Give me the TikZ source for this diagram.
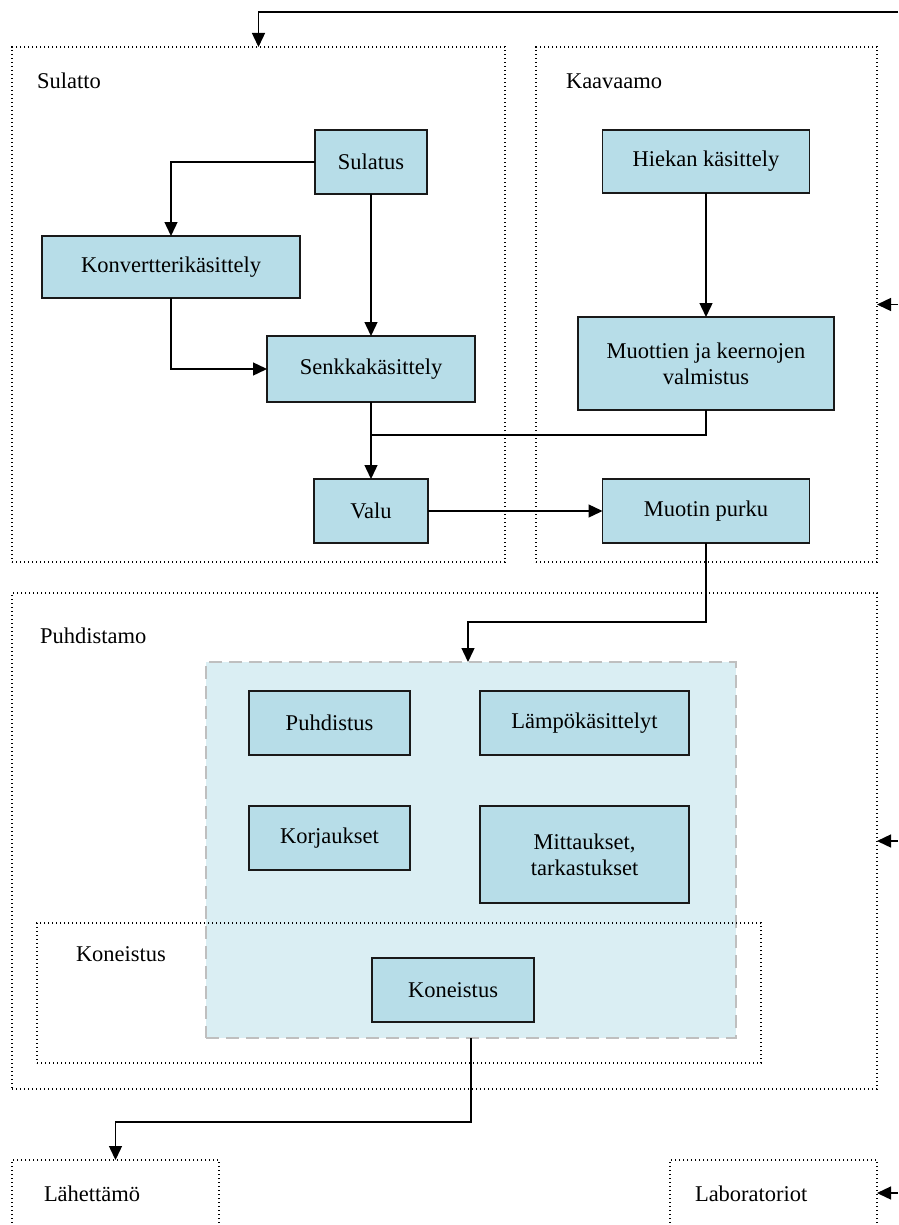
\documentclass[tikz,border=0pt]{standalone}
\usepackage{fontspec}
\setmainfont{Liberation Serif}
\usetikzlibrary{arrows.meta}
\definecolor{procfill}{HTML}{B7DDE8}
\definecolor{areafill}{HTML}{DAEEF3}
\definecolor{areaedge}{HTML}{BFBFBF}
\begin{document}
\begin{tikzpicture}[x=1pt,y=-1pt,
  every node/.style={font=\fontsize{22.5}{26}\selectfont, inner sep=0pt, outer sep=0pt},
  proc/.style={draw=black!90, line width=1.4pt, fill=procfill, align=center},
  dept/.style={draw=black, line width=1.3pt, dash pattern=on 1.4pt off 2.6pt},
  work/.style={draw=areaedge, line width=1.6pt, fill=areafill, dash pattern=on 13pt off 7pt},
  deptlabel/.style={anchor=base west},
  flow/.style={line width=1.4pt, -{Triangle[length=14pt,width=13pt]}},
  link/.style={line width=1.4pt}
]
\useasboundingbox (0,0) rectangle (898,1225);

% departments (dotted frames)
\node[dept, minimum width=493, minimum height=515] (sulatto) at (258.5,304.5) {};
\node[dept, minimum width=341, minimum height=515] (kaavaamo) at (706.5,304.5) {};
\node[dept, minimum width=865, minimum height=496] (puhdistamo) at (444.5,841) {};
\node[work, minimum width=530, minimum height=376] (workarea) at (471,850) {};
\node[dept, minimum width=724, minimum height=140] (koneistamo) at (399,993) {};
\node[dept, minimum width=207, minimum height=80] (lahettamo) at (115.5,1200) {};
\node[dept, minimum width=207, minimum height=80] (laboratoriot) at (773.5,1200) {};

% department labels
\node[deptlabel] (lblsulatto) at (37,89) {Sulatto};
\node[deptlabel] (lblkaavaamo) at (566,89) {Kaavaamo};
\node[deptlabel] (lblpuhdistamo) at (40,643) {Puhdistamo};
\node[deptlabel] (lblkoneistamo) at (76,961) {Koneistus};
\node[deptlabel] (lbllahettamo) at (44,1201) {Lähettämö};
\node[deptlabel] (lbllaboratoriot) at (695,1201) {Laboratoriot};

% process steps
\node[proc, minimum width=112, minimum height=64] (sulatus) at (371,162) {Sulatus};
\node[proc, minimum width=258, minimum height=62] (konv) at (171,267) {Konvertterikäsittely};
\node[proc, minimum width=208, minimum height=66] (senkka) at (371,369) {Senkkakäsittely};
\node[proc, minimum width=114, minimum height=64] (valu) at (371,511) {Valu};
\node[proc, minimum width=207, minimum height=63] (hiekka) at (706,161.5) {Hiekan käsittely};
\node[proc, minimum width=256, minimum height=93] (muotit) at (706,363.5) {Muottien ja keernojen\\valmistus};
\node[proc, minimum width=207, minimum height=64] (purku) at (706,511) {Muotin purku};
\node[proc, minimum width=161, minimum height=64] (puhdistus) at (329.5,723) {Puhdistus};
\node[proc, minimum width=209, minimum height=64] (lampo) at (584.5,723) {Lämpökäsittelyt};
\node[proc, minimum width=161, minimum height=64] (korjaukset) at (329.5,838) {Korjaukset};
\node[proc, minimum width=209, minimum height=97] (mittaukset) at (584.5,854.5) {Mittaukset,\\tarkastukset};
\node[proc, minimum width=162, minimum height=64] (koneistus) at (453,990) {Koneistus};

% free ends and bends
\coordinate (intop) at (898,12);
\coordinate (inkaava) at (898,304.5);
\coordinate (inpuhd) at (898,841);
\coordinate (inlab) at (898,1193);
\coordinate (merge) at (371,435);
\coordinate (bendpurku) at (468,622);

% connectors
\draw[flow] (intop) -| (sulatto.north);
\draw[flow] (sulatus.west) -| (konv.north);
\draw[flow] (sulatus.south) -- (sulatus.south |- senkka.north);
\draw[flow] (konv.south) |- (senkka.west);
\draw[flow] (senkka.south) -- (valu.north);
\draw[link] (muotit.south) |- (merge);
\draw[flow] (hiekka.south) -- (hiekka.south |- muotit.north);
\draw[flow] (valu.east) -- (valu.east -| purku.west);
\draw[flow] (purku.south) |- (bendpurku) -- (bendpurku |- workarea.north);
\draw[flow] (workarea.south) -- ++(0,84) -| (lahettamo.north);
\draw[flow] (inkaava) -- (kaavaamo.east);
\draw[flow] (inpuhd) -- (puhdistamo.east);
\draw[flow] (inlab) -- (inlab -| laboratoriot.east);
\end{tikzpicture}
\end{document}
